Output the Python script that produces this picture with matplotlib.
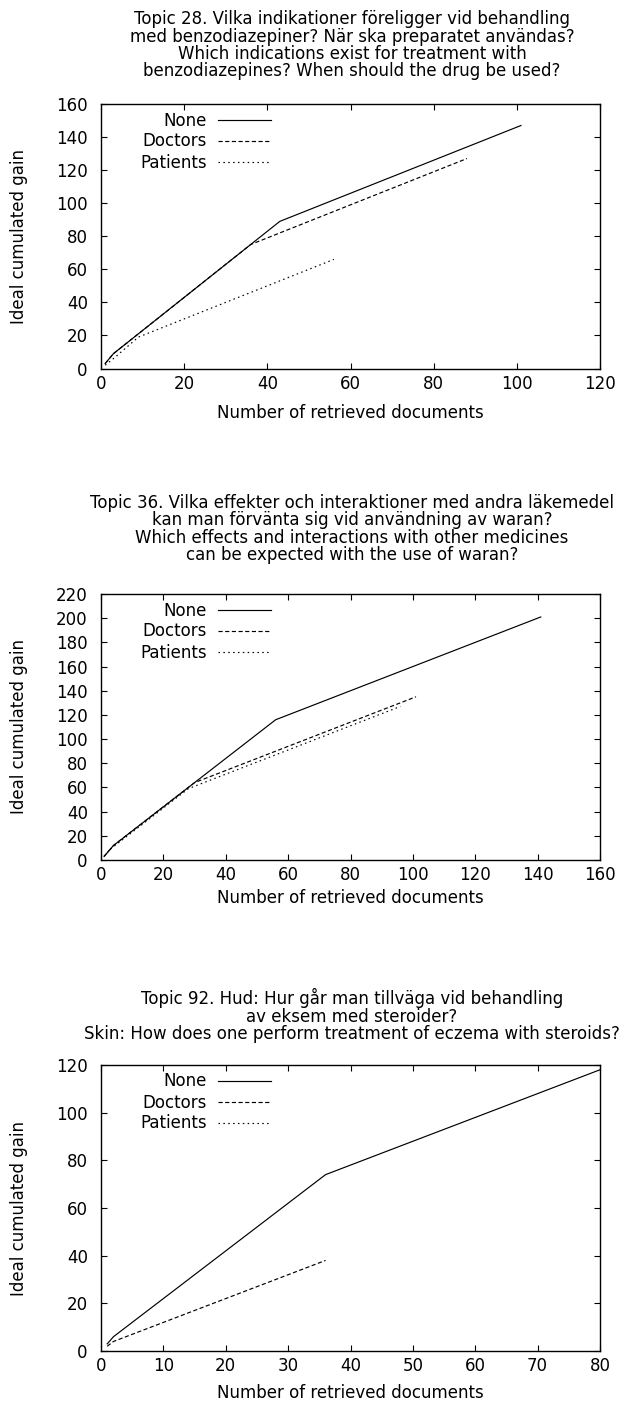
import matplotlib
matplotlib.use("Agg")
import matplotlib.pyplot as plt

plt.rcParams['font.family'] = ['DejaVu Sans']
plt.rcParams['font.size'] = 12
plt.rcParams['lines.scale_dashes'] = False

W, H = 627, 1409

# ---------------- data ----------------
series_names = ["None", "Doctors", "Patients"]
xlabel_text = "Number of retrieved documents"
ylabel_text = "Ideal cumulated gain"

titles = [
    ["Topic 28. Vilka indikationer föreligger vid behandling",
     "med benzodiazepiner? När ska preparatet användas?",
     "Which indications exist for treatment with",
     "benzodiazepines? When should the drug be used?"],
    ["Topic 36. Vilka effekter och interaktioner med andra läkemedel",
     "kan man förvänta sig vid användning av waran?",
     "Which effects and interactions with other medicines",
     "can be expected with the use of waran?"],
    ["Topic 92. Hud: Hur går man tillväga vid behandling",
     "av eksem med steroider?",
     "Skin: How does one perform treatment of eczema with steroids?"],
]

# Topic 28
t28_none_x = [1, 3, 43, 101]
t28_none_y = [3, 9, 89, 147]
t28_doc_x = [1, 3, 36, 88]
t28_doc_y = [3, 9, 75, 127]
t28_pat_x = [1, 3, 9, 56]
t28_pat_y = [2, 6, 19, 66]

# Topic 36
t36_none_x = [1, 4, 56, 141]
t36_none_y = [3, 12, 116, 201]
t36_doc_x = [1, 4, 30, 101]
t36_doc_y = [3, 12, 64, 135]
t36_pat_x = [1, 3, 28, 96]
t36_pat_y = [3, 9, 59, 127]

# Topic 92
t92_none_x = [1, 2, 36, 80]
t92_none_y = [3, 6, 74, 118]
t92_doc_x = [1, 2, 36]
t92_doc_y = [2, 4, 38]
t92_pat_x = []
t92_pat_y = []

x_limits = [(0, 120), (0, 160), (0, 80)]
y_limits = [(0, 160), (0, 220), (0, 120)]
x_ticks = [list(range(0, 121, 20)), list(range(0, 161, 20)), list(range(0, 81, 10))]
y_ticks = [list(range(0, 161, 20)), list(range(0, 221, 20)), list(range(0, 121, 20))]

panels = [
    [(t28_none_x, t28_none_y), (t28_doc_x, t28_doc_y), (t28_pat_x, t28_pat_y)],
    [(t36_none_x, t36_none_y), (t36_doc_x, t36_doc_y), (t36_pat_x, t36_pat_y)],
    [(t92_none_x, t92_none_y), (t92_doc_x, t92_doc_y), (t92_pat_x, t92_pat_y)],
]

# ---------------- layout (pixels) ----------------
axes_px = [(101, 104, 600, 368.5), (101, 594, 600, 860), (101, 1065, 600, 1351)]
title_baselines = [[24, 41.5, 59, 76.5], [508, 525.5, 543, 560.5], [1004, 1021.5, 1039]]
xlabel_center = [413, 898, 1393]

styles = [dict(ls='-'), dict(ls=(0, (3.0, 1.8))), dict(ls=(0, (1.1, 2.4)))]

fig = plt.figure(figsize=(W / 100, H / 100), dpi=100)

for i, (l, t, r, b) in enumerate(axes_px):
    ax = fig.add_axes([l / W, 1 - b / H, (r - l) / W, (b - t) / H])
    for (xs, ys), name, st in zip(panels[i], series_names, styles):
        ax.plot(xs, ys, color='black', lw=0.85, label=name, **st)
    ax.set_xlim(*x_limits[i])
    ax.set_ylim(*y_limits[i])
    ax.set_xticks(x_ticks[i])
    ax.set_yticks(y_ticks[i])
    ax.tick_params(direction='in', length=4.3, width=0.8, top=True, right=True,
                   labelsize=12, colors='black')
    ax.tick_params(axis='y', pad=9.5)
    ax.tick_params(axis='x', pad=4.5)
    for sp in ax.spines.values():
        sp.set_linewidth(1.0)
    ax.set_ylabel(ylabel_text, fontsize=12)
    ax.yaxis.set_label_coords(-0.146, 0.5)
    ax.set_xlabel(xlabel_text, fontsize=12, va='center')
    ax.xaxis.set_label_coords(0.5, -(xlabel_center[i] - b) / (b - t))

    leg = ax.legend(loc='upper right', markerfirst=False, frameon=False,
                    bbox_to_anchor=(271 / W, 1 - (t + 7.5) / H),
                    bbox_transform=fig.transFigure,
                    borderpad=0, borderaxespad=0, handlelength=3.15,
                    handletextpad=0.7, labelspacing=0.18, fontsize=12)

    for line, yb in zip(titles[i], title_baselines[i]):
        fig.text(352 / W, 1 - yb / H, line, ha='center', va='baseline', fontsize=12)

fig.savefig("out.png", dpi=100)
